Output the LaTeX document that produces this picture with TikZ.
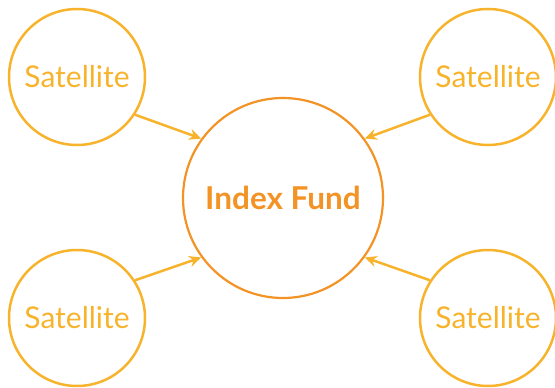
\documentclass[tikz,border=0pt]{standalone}
\usepackage{fontspec}
\setmainfont{Lato}
\usetikzlibrary{arrows.meta}
\usepackage{xcolor}
\definecolor{colorf7b32b}{HTML}{F7B32B}
\definecolor{colorf39325}{HTML}{F39325}

\begin{document}
\begin{tikzpicture}
    [x=1pt, y=-1pt,
     >={Stealth[length=12pt, width=11pt]},  % Uniform arrow style
     satellite/.style={shape=circle, draw=colorf7b32b, line width=2.5pt, minimum size=136pt, inner sep=0pt, text=colorf7b32b, font=\fontsize{30}{34}\selectfont},
     fund/.style={shape=circle, draw=colorf39325, line width=2.2pt, minimum size=200pt, inner sep=0pt, text=colorf39325, font=\fontsize{31.5}{36}\selectfont\bfseries},
     link/.style={->, draw=colorf7b32b, line width=2.5pt},
    ]
\useasboundingbox (0,0) rectangle (555,388);

\node[fund] (node_fund) at (283,198) {\raisebox{-2pt}{Index Fund}};
\node[satellite] (node_sat_nw) at (77,77) {\raisebox{-1.5pt}{Satellite}};
\node[satellite] (node_sat_ne) at (488,77) {\raisebox{-1.5pt}{Satellite}};
\node[satellite] (node_sat_sw) at (77,318) {\raisebox{-1.5pt}{Satellite}};
\node[satellite] (node_sat_se) at (488,318) {\raisebox{-1.5pt}{Satellite}};

\draw[link] (node_sat_nw.-33) -- (node_fund.144);
\draw[link] (node_sat_ne.213) -- (node_fund.36);
\draw[link] (node_sat_sw.33) -- (node_fund.216);
\draw[link] (node_sat_se.147) -- (node_fund.-36);

\end{tikzpicture}
\end{document}
